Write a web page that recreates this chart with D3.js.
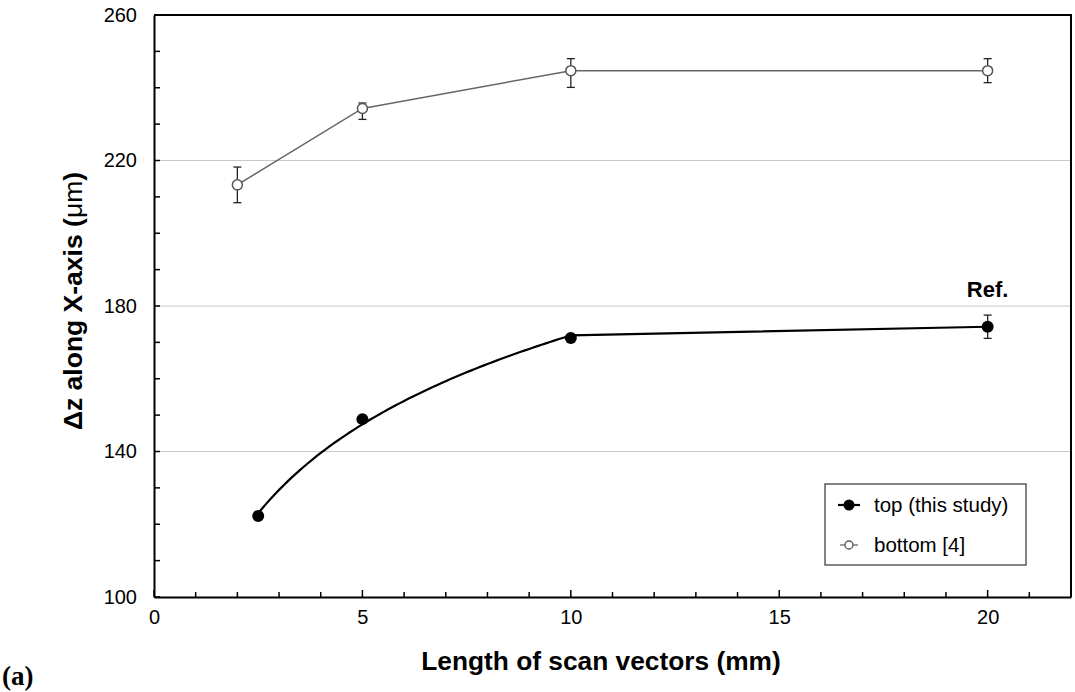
<!DOCTYPE html>
<html>
<head>
<meta charset="utf-8">
<script src="https://cdn.jsdelivr.net/npm/d3@7"></script>
<style>
body{margin:0;background:#fff;}
</style>
</head>
<body>
<div id="chart"></div>
<script>
// scan vector length (mm) and delta z (um)
var topX = [2.5, 5, 10, 20];
var topY = [122.3, 148.9, 171.2, 174.3];
var topErr = [0, 0, 0, 3.2];

var botX = [2, 5, 10, 20];
var botY = [213.3, 234.3, 244.7, 244.7];
var botErrUp = [4.9, 1.5, 3.3, 3.3];
var botErrDn = [4.9, 3.0, 4.6, 3.3];

var xTicks = [0, 5, 10, 15, 20];
var yTicks = [100, 140, 180, 220, 260];
var gridVals = [140, 180, 220];

var sans = '"Liberation Sans",Arial,sans-serif';
var width = 1075, height = 692;
var pL = 154, pR = 1071, pT = 15, pB = 597;

var svg = d3.select('#chart').append('svg')
 .attr('width', width)
 .attr('height', height)
 .style('font-family', sans);

var x = d3.scaleLinear().domain([0, 22]).range([pL, pR]);
var y = d3.scaleLinear().domain([100, 260]).range([pB, pT]);

// gridlines
svg.selectAll('.grid').data(gridVals).enter().append('line')
 .attr('x1', pL).attr('x2', pR)
 .attr('y1', function(d){ return y(d); })
 .attr('y2', function(d){ return y(d); })
 .attr('stroke', '#c8c8c8').attr('stroke-width', 1);

// frame: top and right edges
svg.append('path')
 .attr('d', 'M' + pL + ',' + pT + 'H' + pR + 'V' + pB)
 .attr('fill', 'none').attr('stroke', '#000').attr('stroke-width', 2);

// inward ticks
var xMinor = d3.range(0, 23, 1);
var yMinor = d3.range(100, 261, 10);
svg.selectAll('.xm').data(xMinor).enter().append('line')
 .attr('x1', function(d){ return x(d); }).attr('x2', function(d){ return x(d); })
 .attr('y1', pB).attr('y2', function(d){ return d % 5 == 0 ? pB - 7 : pB - 5; })
 .attr('stroke', '#000').attr('stroke-width', 1.5);
svg.selectAll('.ym').data(yMinor).enter().append('line')
 .attr('y1', function(d){ return y(d); }).attr('y2', function(d){ return y(d); })
 .attr('x1', pL).attr('x2', pL + 6)
 .attr('stroke', '#000').attr('stroke-width', 1.5);

// axes (labels only, ticks drawn inward above)
var xAxis = d3.axisBottom(x).tickValues(xTicks).tickSize(0).tickPadding(13);
var yAxis = d3.axisLeft(y).tickValues(yTicks).tickSize(0).tickPadding(17);

var gx = svg.append('g').attr('transform', 'translate(0,' + pB + ')').call(xAxis);
var gy = svg.append('g').attr('transform', 'translate(' + pL + ',0)').call(yAxis);
gx.select('.domain').attr('stroke', '#000').attr('stroke-width', 2);
gy.select('.domain').attr('stroke', '#000').attr('stroke-width', 2);
[gx, gy].forEach(function(g){
 g.selectAll('text')
  .style('font-size', '20px')
  .style('font-family', sans)
  .attr('fill', '#000');
});

// bottom series
var bot = botX.map(function(d, i){ return {x: d, y: botY[i], up: botErrUp[i], dn: botErrDn[i]}; });
var botLine = d3.line().x(function(d){ return x(d.x); }).y(function(d){ return y(d.y); });
svg.append('path').datum(bot)
 .attr('d', botLine).attr('fill', 'none').attr('stroke', '#666').attr('stroke-width', 1.5);

var eb = svg.selectAll('.eb').data(bot).enter().append('g').attr('stroke', '#222').attr('stroke-width', 1.3);
eb.append('line')
 .attr('x1', function(d){ return x(d.x); }).attr('x2', function(d){ return x(d.x); })
 .attr('y1', function(d){ return y(d.y + d.up); }).attr('y2', function(d){ return y(d.y - d.dn); });
eb.append('line')
 .attr('x1', function(d){ return x(d.x) - 4; }).attr('x2', function(d){ return x(d.x) + 4; })
 .attr('y1', function(d){ return y(d.y + d.up); }).attr('y2', function(d){ return y(d.y + d.up); });
eb.append('line')
 .attr('x1', function(d){ return x(d.x) - 4; }).attr('x2', function(d){ return x(d.x) + 4; })
 .attr('y1', function(d){ return y(d.y - d.dn); }).attr('y2', function(d){ return y(d.y - d.dn); });

svg.selectAll('.bc').data(bot).enter().append('circle')
 .attr('cx', function(d){ return x(d.x); }).attr('cy', function(d){ return y(d.y); })
 .attr('r', 5).attr('fill', '#fff').attr('stroke', '#555').attr('stroke-width', 1.5);

// top series: log trend over the first three points, then straight to 20 mm
var tp = topX.map(function(d, i){ return {x: d, y: topY[i], e: topErr[i]}; });
var fitPts = tp.slice(0, 3);
var lx = fitPts.map(function(d){ return Math.log(d.x); });
var mx = d3.mean(lx), my = d3.mean(fitPts, function(d){ return d.y; });
var sxy = d3.sum(fitPts, function(d, i){ return (lx[i] - mx) * (d.y - my); });
var sxx = d3.sum(lx, function(v){ return (v - mx) * (v - mx); });
var b = sxy / sxx, a = my - b * mx;
var trend = d3.range(fitPts[0].x, fitPts[2].x + 0.001, 0.1).map(function(v){
 return {x: v, y: a + b * Math.log(v)};
});
trend.push({x: tp[3].x, y: tp[3].y});

var topLine = d3.line().x(function(d){ return x(d.x); }).y(function(d){ return y(d.y); });
svg.append('path').datum(trend)
 .attr('d', topLine).attr('fill', 'none').attr('stroke', '#000').attr('stroke-width', 2.2);

var te = svg.selectAll('.te').data(tp.filter(function(d){ return d.e > 0; })).enter()
 .append('g').attr('stroke', '#222').attr('stroke-width', 1.3);
te.append('line')
 .attr('x1', function(d){ return x(d.x); }).attr('x2', function(d){ return x(d.x); })
 .attr('y1', function(d){ return y(d.y + d.e); }).attr('y2', function(d){ return y(d.y - d.e); });
te.append('line')
 .attr('x1', function(d){ return x(d.x) - 4; }).attr('x2', function(d){ return x(d.x) + 4; })
 .attr('y1', function(d){ return y(d.y + d.e); }).attr('y2', function(d){ return y(d.y + d.e); });
te.append('line')
 .attr('x1', function(d){ return x(d.x) - 4; }).attr('x2', function(d){ return x(d.x) + 4; })
 .attr('y1', function(d){ return y(d.y - d.e); }).attr('y2', function(d){ return y(d.y - d.e); });

svg.selectAll('.tc').data(tp).enter().append('circle')
 .attr('cx', function(d){ return x(d.x); }).attr('cy', function(d){ return y(d.y); })
 .attr('r', 6).attr('fill', '#000');

svg.append('text')
 .attr('x', x(20)).attr('y', 297)
 .attr('text-anchor', 'middle')
 .attr('font-size', 22).attr('font-weight', 'bold')
 .text('Ref.');

// legend
var lg = svg.append('g');
lg.append('rect').attr('x', 825).attr('y', 484).attr('width', 201).attr('height', 81)
 .attr('fill', '#fff').attr('stroke', '#333').attr('stroke-width', 1.2);
lg.append('line').attr('x1', 838).attr('x2', 860).attr('y1', 505).attr('y2', 505)
 .attr('stroke', '#000').attr('stroke-width', 2.2);
lg.append('circle').attr('cx', 849).attr('cy', 505).attr('r', 5.5).attr('fill', '#000');
lg.append('text').attr('x', 874).attr('y', 512).attr('font-size', 20.5).text('top (this study)');
lg.append('line').attr('x1', 840).attr('x2', 858).attr('y1', 545).attr('y2', 545)
 .attr('stroke', '#666').attr('stroke-width', 1.3);
lg.append('circle').attr('cx', 849).attr('cy', 545).attr('r', 4).attr('fill', '#fff')
 .attr('stroke', '#555').attr('stroke-width', 1.3);
lg.append('text').attr('x', 874).attr('y', 552).attr('font-size', 20.5).text('bottom [4]');

// axis titles
svg.append('text')
 .attr('x', 601).attr('y', 670)
 .attr('text-anchor', 'middle')
 .attr('font-size', 26.3).attr('font-weight', 'bold')
 .text('Length of scan vectors (mm)');

var yt = svg.append('text')
 .attr('transform', 'translate(82,301) rotate(-90)')
 .attr('text-anchor', 'middle')
 .attr('font-size', 26.5).attr('font-weight', 'bold');
yt.append('tspan').text('\u0394z along X-axis (');
yt.append('tspan').attr('font-weight', 'normal').text('\u03bcm');
yt.append('tspan').text(')');

svg.append('text')
 .attr('x', 2).attr('y', 685)
 .style('font-family', '"Liberation Serif","Times New Roman",serif')
 .attr('font-size', 27).attr('font-weight', 'bold')
 .text('(a)');
</script>
</body>
</html>
